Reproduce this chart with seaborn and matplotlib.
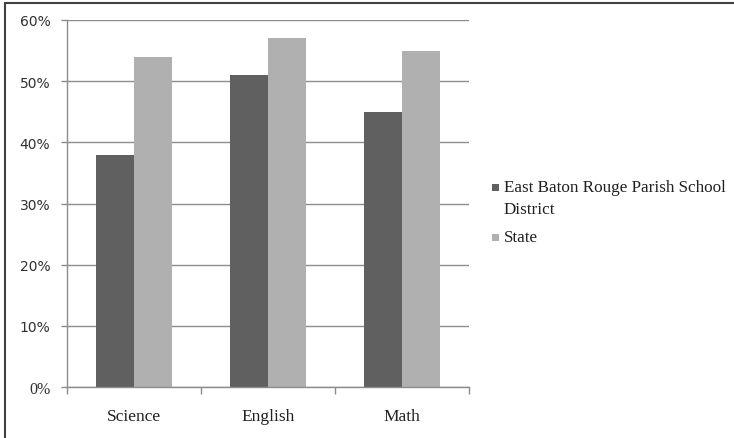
import matplotlib
matplotlib.use("Agg")
import matplotlib.pyplot as plt
import seaborn as sns
import pandas as pd
from matplotlib.patches import Rectangle
from matplotlib.lines import Line2D

categories = ["Science", "English", "Math"]
district_values = [38, 51, 45]
state_values = [54, 57, 55]
series_names = ["East Baton Rouge Parish School District", "State"]
legend_lines = [["East Baton Rouge Parish School", "District"], ["State"]]
yticks = [0, 10, 20, 30, 40, 50, 60]
ytick_labels = ["0%", "10%", "20%", "30%", "40%", "50%", "60%"]

colors = ["#606060", "#b0b0b0"]

df = pd.DataFrame({
    "Subject": categories * 2,
    "Series": [series_names[0]] * 3 + [series_names[1]] * 3,
    "Value": district_values + state_values,
})

sns.set_theme(style="white")
plt.rcParams['font.family'] = ['Liberation Serif', 'DejaVu Serif']

W, H = 734, 439
fig = plt.figure(figsize=(W/100, H/100), dpi=100)
ax = fig.add_axes([67/W, 1-388/H, (469-67)/W, (388-21)/H])

sns.barplot(data=df, x="Subject", y="Value", hue="Series", order=categories,
            hue_order=series_names, palette=colors, width=0.56, gap=0,
            linewidth=0, saturation=1, ax=ax, legend=False)

ax.set_ylim(0, 60)
ax.set_xlim(-0.5, 2.5)
ax.set_yticks(yticks)
ax.set_yticklabels(ytick_labels)
ax.set_xlabel("")
ax.set_ylabel("")
ax.yaxis.grid(True, color="#8c8c8c", linewidth=1)
ax.set_axisbelow(True)
for s in ["top", "right"]:
    ax.spines[s].set_visible(False)
for s in ["left", "bottom"]:
    ax.spines[s].set_color("#8c8c8c")
    ax.spines[s].set_linewidth(1)

ax.tick_params(axis="y", which="major", left=True, length=4, width=1,
               color="#8c8c8c", pad=8, labelsize=10, labelcolor="#303030")
for lbl in ax.get_yticklabels():
    lbl.set_fontfamily(["DejaVu Sans"])
ax.get_yticklabels()[0].set_fontfamily(["Liberation Serif"])
ax.get_yticklabels()[0].set_fontsize(11.5)

ax.tick_params(axis="x", which="major", bottom=False, length=0, pad=15,
               labelsize=12.5, labelcolor="#202020")
ax.set_xticks([-0.5, 0.5, 1.5, 2.5], minor=True)
ax.tick_params(axis="x", which="minor", bottom=True, length=5, width=1,
               color="#8c8c8c")

# legend (drawn as text + squares to match the top-aligned marker)
legend_y = [[188, 210], [238]]
sq = 7
for color, lines, ys in zip(colors, legend_lines, legend_y):
    fig.add_artist(Rectangle((492/W, 1-(ys[0]+sq/2)/H), sq/W, sq/H,
                             transform=fig.transFigure, facecolor=color,
                             edgecolor="none"))
    for line, y in zip(lines, ys):
        fig.text(504/W, 1-y/H, line, ha="left", va="center", fontsize=12.3,
                 color="#202020")

# frame lines (top and left visible in reference)
fig.add_artist(Line2D([5/W, 1], [1-4/H, 1-4/H], transform=fig.transFigure,
                      color="#404040", linewidth=1.5))
fig.add_artist(Line2D([5/W, 5/W], [0, 1-4/H], transform=fig.transFigure,
                      color="#404040", linewidth=1.5))

fig.savefig("out.png", dpi=100, facecolor="white")
